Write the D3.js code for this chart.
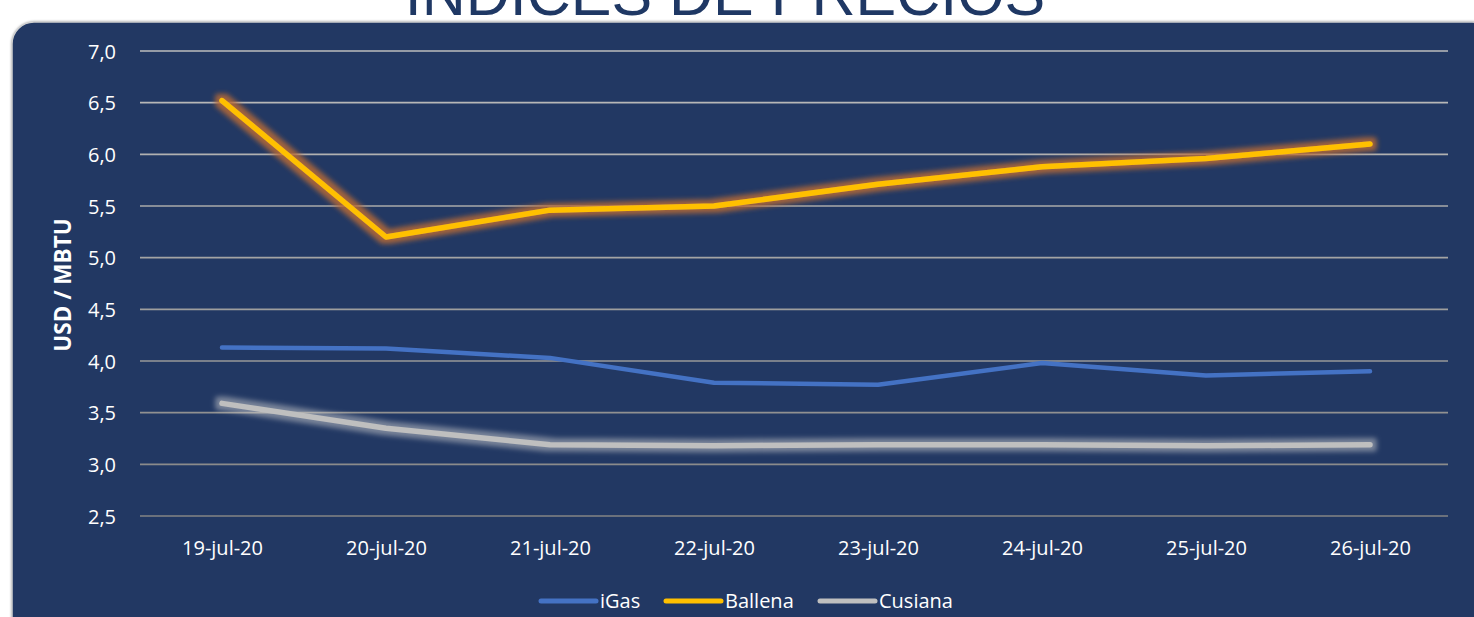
<!DOCTYPE html>
<html><head><meta charset="utf-8">
<script src="https://cdn.jsdelivr.net/npm/d3@7"></script>
<style>html,body{margin:0;padding:0;background:#fff;overflow:hidden}</style>
</head><body>
<svg id="c" width="1474" height="617"></svg>
<script>
const categories = ["19-jul-20","20-jul-20","21-jul-20","22-jul-20","23-jul-20","24-jul-20","25-jul-20","26-jul-20"];
const iGas    = [4.13, 4.12, 4.03, 3.79, 3.77, 3.98, 3.86, 3.90];
const ballena = [6.52, 5.20, 5.46, 5.50, 5.71, 5.88, 5.96, 6.10];
const cusiana = [3.59, 3.35, 3.19, 3.18, 3.19, 3.19, 3.18, 3.19];
const yTicks  = [2.5, 3.0, 3.5, 4.0, 4.5, 5.0, 5.5, 6.0, 6.5, 7.0];
const seriesNames = ["iGas","Ballena","Cusiana"];
const seriesColors = ["#4472C4","#FFC000","#BFBFBF"];

(function(){
const svg = d3.select("#c");
const defs = svg.append("defs");
function glow(id, color, r, sd, op){
  const f = defs.append("filter").attr("id", id).attr("filterUnits","userSpaceOnUse")
    .attr("x",0).attr("y",0).attr("width",1474).attr("height",617);
  f.append("feMorphology").attr("in","SourceAlpha").attr("operator","dilate").attr("radius", r).attr("result","d");
  f.append("feGaussianBlur").attr("in","d").attr("stdDeviation", sd).attr("result","b");
  f.append("feFlood").attr("flood-color", color).attr("flood-opacity", op);
  f.append("feComposite").attr("in2","b").attr("operator","in").attr("result","g");
  const m = f.append("feMerge");
  m.append("feMergeNode").attr("in","g");
  m.append("feMergeNode").attr("in","SourceGraphic");
}
glow("glowOrange", "#B86A35", 3.5, 2.8, 0.85);
glow("glowWhite", "#D0D0D0", 3.5, 2.8, 0.5);
const sh = defs.append("filter").attr("id","psh").attr("x","-5%").attr("y","-5%").attr("width","110%").attr("height","110%");
sh.append("feGaussianBlur").attr("in","SourceAlpha").attr("stdDeviation",1.2).attr("result","b");
sh.append("feFlood").attr("flood-color","#999").attr("flood-opacity",0.8);
sh.append("feComposite").attr("in2","b").attr("operator","in").attr("result","s");
const shm = sh.append("feMerge"); shm.append("feMergeNode").attr("in","s"); shm.append("feMergeNode").attr("in","SourceGraphic");

// Title (cut off at top, as in the reference)
svg.append("text").attr("x", 725).attr("y", 15).attr("text-anchor","middle")
  .attr("font-family","Liberation Sans, Arial, sans-serif").attr("font-size", 61)
  .attr("fill","#1F3864").text("INDICES DE PRECIOS");

// Panel
svg.append("rect").attr("x", 12).attr("y", 22).attr("width", 1482).attr("height", 640)
  .attr("rx", 22).attr("ry", 22).attr("fill","#203864").attr("stroke","#D0D0D0").attr("stroke-width",1.5)
  .attr("filter","url(#psh)");

const pl = 140, pr = 1452, pt = 51, pb = 516;
const x = d3.scalePoint().domain(categories).range([pl, pr]).padding(0.5);
const y = d3.scaleLinear().domain([2.5, 7.0]).range([pb, pt]);
const gridColor = d3.scaleLinear().domain([7.0, 2.5]).range(["#BDBDBD", "#858585"]);

// gridlines
svg.append("g").selectAll("line").data(yTicks).join("line")
  .attr("x1", pl).attr("x2", 1448)
  .attr("y1", d => y(d)).attr("y2", d => y(d))
  .attr("stroke", d => gridColor(d)).attr("stroke-width", 1.6);

const font = "Open Sans, sans-serif";
// y axis labels
const yAxis = svg.append("g").attr("transform", `translate(${pl - 24},0)`)
  .call(d3.axisLeft(y).tickValues(yTicks).tickSize(0).tickPadding(0).tickFormat(d => d3.format(".1f")(d).replace(".", ",")));
yAxis.select(".domain").remove();
yAxis.selectAll("text").attr("fill","#fff").attr("font-family",font).attr("font-size", 20).attr("dy","0.36em");

// x axis labels
const xAxis = svg.append("g").attr("transform", `translate(0,${pb + 32})`)
  .call(d3.axisBottom(x).tickSize(0).tickPadding(0));
xAxis.select(".domain").remove();
xAxis.selectAll("text").attr("fill","#fff").attr("font-family",font).attr("font-size", 20).attr("dy","0.36em");

// axis title
svg.append("text").attr("transform", `translate(63,285) rotate(-90)`).attr("text-anchor","middle")
  .attr("dy","0.36em")
  .attr("font-family",font).attr("font-weight","bold").attr("font-size", 22.5)
  .attr("fill","#fff").text("USD / MBTU");

const line = d3.line().x((d,i) => x(categories[i])).y(d => y(d));
const seriesData = [iGas, ballena, cusiana];
const filters = [null, "url(#glowOrange)", "url(#glowWhite)"];
const widths = [4.5, 5.5, 5.5];
const order = [2, 0, 1];
order.forEach(k => {
  svg.append("path").datum(seriesData[k]).attr("d", line)
    .attr("fill","none").attr("stroke", seriesColors[k]).attr("stroke-width", widths[k])
    .attr("stroke-linejoin","round").attr("stroke-linecap","round")
    .attr("filter", filters[k]);
});

// legend
const legendX = [541, 666, 820];
const lg = svg.append("g");
seriesNames.forEach((n, i) => {
  lg.append("line").attr("x1", legendX[i]).attr("x2", legendX[i] + 55).attr("y1", 601).attr("y2", 601)
    .attr("stroke", seriesColors[i]).attr("stroke-width", 5).attr("stroke-linecap","round");
  lg.append("text").attr("x", legendX[i] + 59).attr("y", 601).attr("dy","0.36em")
    .attr("font-family",font).attr("font-size", 20).attr("fill","#fff").text(n);
});
})();
</script>
</body></html>
